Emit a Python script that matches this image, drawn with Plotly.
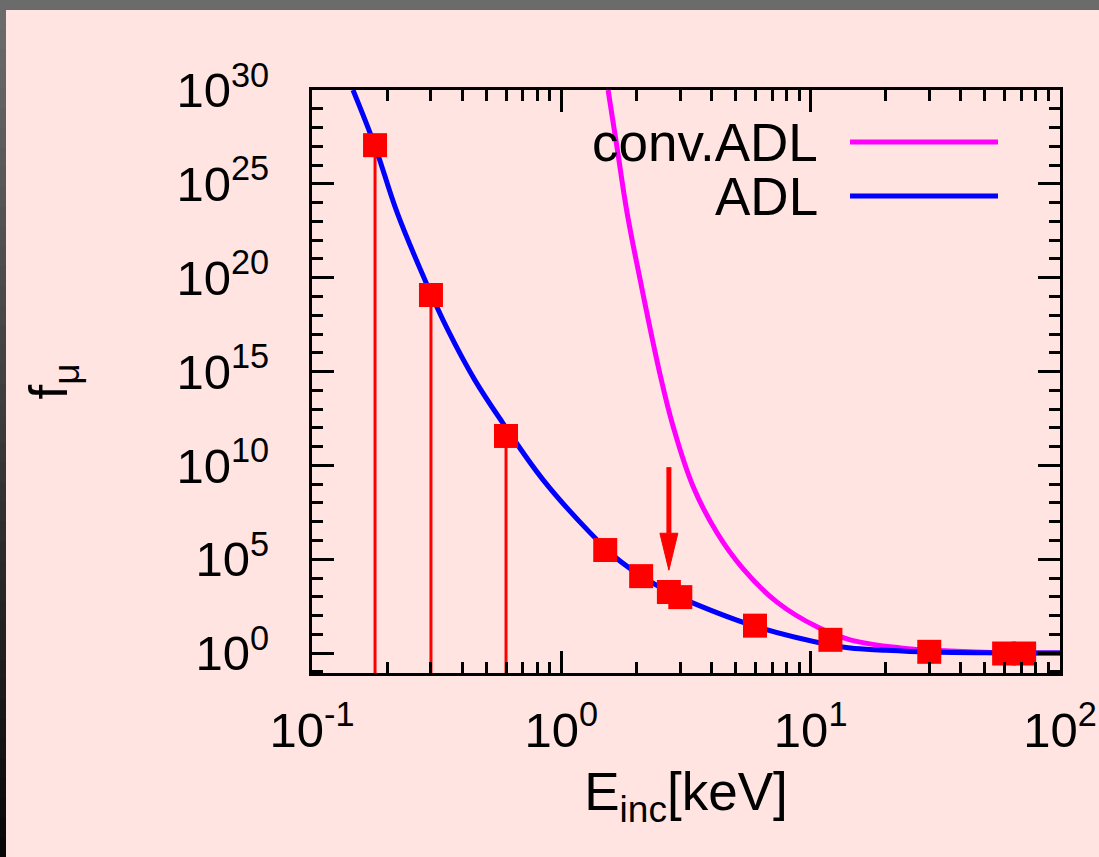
import numpy as np
import plotly.graph_objects as go

# ---------------- data ----------------
# ADL curve (blue)
E_adl = [0.146, 0.179, 0.219, 0.284, 0.351, 0.450, 0.583, 0.845, 1.30, 1.67,
         2.09, 2.70, 3.38, 5.98, 12.0, 14.4, 19.5, 29.9, 57.5, 100.0]
f_adl = [1e30, 1.0e27, 3.2e23, 7.4e19, 1.6e17, 3.5e14, 1.8e12, 1.7e9, 2.7e6, 1.1e5,
         1.3e4, 1.8e3, 460, 27, 2.7, 1.85, 1.44, 1.13, 1.02, 1.0]

# conventional ADL curve (magenta)
E_conv = [1.54, 1.67, 1.835, 2.07, 2.49, 2.81, 3.38, 4.21, 5.36, 7.33,
          10.6, 14.4, 22.9, 36.3, 57.5, 100.0]
f_conv = [1e30, 1e27, 2.9e23, 7.9e19, 6.8e14, 1.15e12, 7.3e8, 2.6e6, 3.1e4, 520,
          25, 5.1, 1.9, 1.3, 1.05, 1.0]

# measured points (red squares)
E_pts = [0.179, 0.300, 0.600, 1.50, 2.09, 2.70, 3.00, 5.98, 12.0, 29.9, 59.7, 71.8]
f_pts = [1.15e27, 1.2e19, 3.7e11, 3.1e5, 1.26e4, 1.8e3, 960, 29, 5.1, 1.17, 0.95, 0.95]
n_drop = 3  # the first points carry drop lines to the lower axis

# marker arrow
arrow_E = 2.70
arrow_top = 8.1e9
arrow_tip = 2.6e4

# axes
x_range_log = [-1, 2]
y_range_log = [-1.06, 30]
x_major = [0.1, 1, 10, 100]
x_major_text = ["10<sup>-1</sup>", "10<sup>0</sup>", "10<sup>1</sup>", "10<sup>2</sup>"]
y_major = [1e0, 1e5, 1e10, 1e15, 1e20, 1e25, 1e30]
y_major_text = ["10<sup>0</sup>", "10<sup>5</sup>", "10<sup>10</sup>", "10<sup>15</sup>",
                "10<sup>20</sup>", "10<sup>25</sup>", "10<sup>30</sup>"]

# ---------------- layout geometry ----------------
W, H = 1099, 857
PL, PR, PT, PB = 312, 1060, 90, 673  # plot frame in pixels
BG = "#ffe4e1"
FONT = "Liberation Sans, Arial, sans-serif"
FS_TICK = 49
FS_TEXT = 53
LW = 5


def px_x(p):
    return (p - PL) / (PR - PL)


def px_y(p):
    return (PB - p) / (PB - PT)


fig = go.Figure()

# drop lines below the first points
y_floor = 10 ** y_range_log[0]
dx, dy = [], []
for e, f in zip(E_pts[:n_drop], f_pts[:n_drop]):
    dx += [e, e, None]
    dy += [f, y_floor, None]
fig.add_trace(go.Scatter(x=dx, y=dy, mode="lines", line=dict(color="#ff0000", width=3),
                         hoverinfo="skip", showlegend=False))

fig.add_trace(go.Scatter(x=E_conv, y=f_conv, mode="lines", name="conv.ADL",
                         line=dict(color="#ff00ff", width=LW, shape="spline", smoothing=1.1),
                         showlegend=False))
fig.add_trace(go.Scatter(x=E_adl, y=f_adl, mode="lines", name="ADL",
                         line=dict(color="#0000ff", width=LW, shape="spline", smoothing=1.1),
                         showlegend=False))

fig.add_trace(go.Scatter(x=E_pts, y=f_pts, mode="markers",
                         marker=dict(symbol="square", size=24, color="#ff0000",
                                     line=dict(width=0)),
                         showlegend=False))

# arrow: shaft plus a narrow filled head
head_len = 1.97   # decades
head_half = 0.036  # decades in x
la, lt = np.log10(arrow_E), np.log10(arrow_tip)
base = 10 ** (lt + head_len)
fig.add_trace(go.Scatter(x=[arrow_E, arrow_E], y=[arrow_top, base], mode="lines",
                         line=dict(color="#ff0000", width=5), hoverinfo="skip", showlegend=False))
fig.add_trace(go.Scatter(x=[10 ** (la - head_half), 10 ** (la + head_half), arrow_E, 10 ** (la - head_half)],
                         y=[base, base, arrow_tip, base], mode="lines", fill="toself",
                         fillcolor="#ff0000", line=dict(color="#ff0000", width=1),
                         hoverinfo="skip", showlegend=False))

# window frame: top bar and shaded left edge
shapes = [dict(type="rect", xref="paper", yref="paper",
               x0=px_x(0), x1=px_x(W), y0=px_y(10), y1=px_y(-2),
               fillcolor="#6b6b6b", line=dict(width=0), layer="above")]
n_seg = 43
for i in range(n_seg):
    t = i / (n_seg - 1)
    g = int(round(0x6b * (1 - t) + 0x08 * t))
    shapes.append(dict(type="rect", xref="paper", yref="paper",
                       x0=px_x(0), x1=px_x(6),
                       y0=px_y(10 + (i + 1) * (H - 10) / n_seg + 1), y1=px_y(10 + i * (H - 10) / n_seg),
                       fillcolor=f"rgb({g},{g},{g})", line=dict(width=0), layer="above"))

# legend samples
legend_y = [142, 196]
legend_col = ["#ff00ff", "#0000ff"]
legend_txt = ["conv.ADL", "ADL"]
annotations = []
for yy, c, t in zip(legend_y, legend_col, legend_txt):
    shapes.append(dict(type="line", xref="paper", yref="paper",
                       x0=px_x(850), x1=px_x(998), y0=px_y(yy), y1=px_y(yy),
                       line=dict(color=c, width=LW)))
    annotations.append(dict(text=t, xref="paper", yref="paper", x=px_x(819), y=px_y(yy),
                            xanchor="right", yanchor="middle", showarrow=False,
                            height=50, valign="middle", borderpad=0,
                            font=dict(family=FONT, size=FS_TEXT, color="black")))

axis_common = dict(type="log", showgrid=False, zeroline=False, showline=True,
                   linecolor="black", linewidth=3, mirror="ticks", ticks="inside",
                   ticklen=22, tickwidth=3, tickcolor="black",
                   tickfont=dict(family=FONT, size=FS_TICK, color="black"))

fig.update_layout(
    width=W, height=H,
    margin=dict(l=PL, r=W - PR, t=PT, b=H - PB, autoexpand=False),
    paper_bgcolor=BG, plot_bgcolor=BG,
    shapes=shapes, annotations=annotations,
    xaxis=dict(**axis_common, range=x_range_log, tickmode="array", tickvals=x_major,
               ticktext=x_major_text, ticklabelstandoff=12,
               minor=dict(tickmode="array",
                          tickvals=[m * 10 ** k for k in (-1, 0, 1) for m in range(2, 10)],
                          ticks="inside", ticklen=11, tickwidth=3, tickcolor="black"),
               title=dict(text="E<sub>inc</sub>[keV]", font=dict(family=FONT, size=FS_TEXT, color="black"),
                          standoff=18)),
    yaxis=dict(**axis_common, range=y_range_log, tickmode="array", tickvals=y_major,
               ticktext=y_major_text, ticklabelstandoff=30,
               minor=dict(tickmode="array",
                          tickvals=[10.0 ** k for k in range(-1, 31)],
                          ticks="inside", ticklen=11, tickwidth=3, tickcolor="black"),
               title=dict(text="f<sub>μ</sub>", font=dict(family=FONT, size=FS_TEXT, color="black"),
                          standoff=92)),
)

fig.write_html("out.html")
